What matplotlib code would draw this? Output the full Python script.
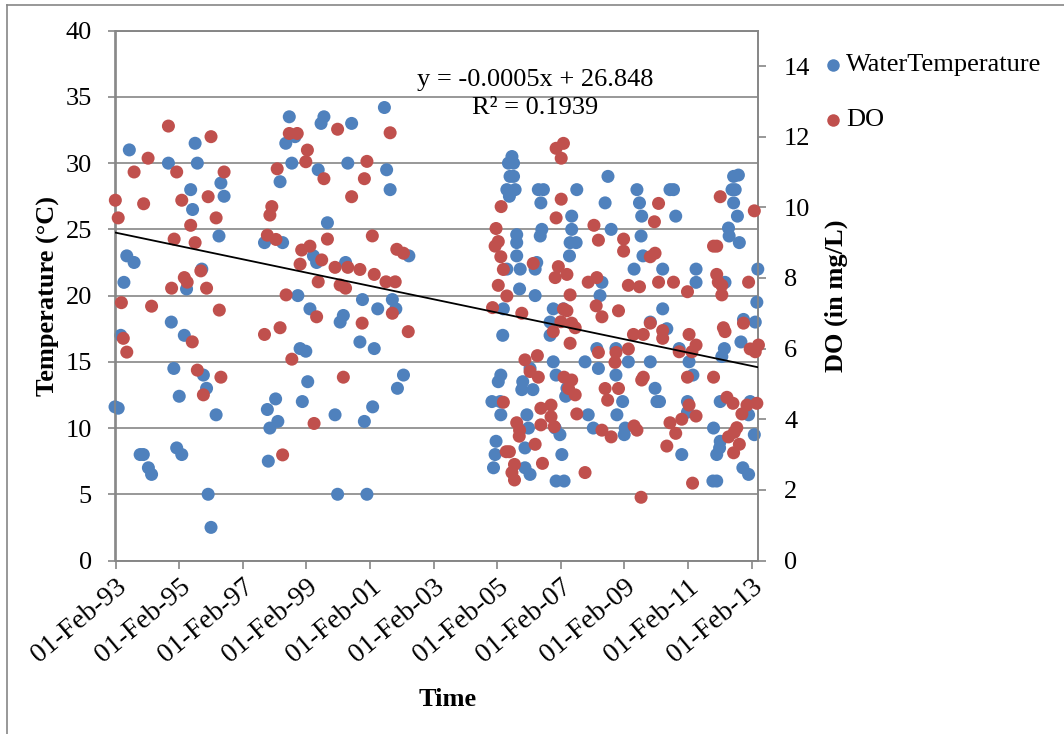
import matplotlib
matplotlib.use("Agg")
import matplotlib.pyplot as plt
import matplotlib.dates as mdates
from matplotlib.lines import Line2D
from datetime import datetime, timedelta
import numpy as np

# ---------------- data (decimal year, value) ----------------
wt_year = [1993.52,1995.59,1994.75,1995.66,1995.45,1996.40,1996.50,1995.51,1996.34,1997.77,1993.44,1993.67,1993.35,1995.80,1995.32,
 1994.84,1993.25,1995.25,1994.92,1995.85,1995.95,1995.09,1993.07,1993.17,1996.25,1997.86,1997.94,1993.86,1993.96,1995.01,1995.17,
 1994.12,1994.22,1996.00,1996.09,1997.89,2001.54,1998.55,1999.64,1999.55,2000.51,1998.44,1998.73,1998.63,1999.46,2000.39,2001.61,
 1998.26,2001.72,1999.75,1998.34,1999.31,1999.41,2000.32,2002.31,1998.82,2000.85,2001.79,1999.20,2000.25,2000.15,2001.33,2001.90,
 2000.77,2001.22,1998.89,1999.07,1999.13,2002.14,2001.95,1998.12,1998.96,1998.19,1999.99,2001.17,2000.91,2000.07,2000.99,
 2005.55,2005.44,2005.60,2005.60,2005.49,2005.39,2005.65,2005.47,2006.38,2006.54,2006.46,2007.59,2008.57,2008.48,2007.43,2007.43,
 2006.49,2006.44,2005.70,2005.70,2007.38,2007.57,2008.67,2005.70,2007.36,2005.39,2005.81,2006.33,2006.28,2008.38,2005.79,2006.28,
 2008.32,2005.28,2006.85,2007.17,2006.75,2006.75,2005.26,2008.22,2008.82,2006.85,2007.85,2008.27,2008.82,2005.20,2005.12,2006.12,
 2005.89,2005.86,2006.21,2006.94,2007.28,2007.24,2004.92,2005.18,2005.20,2006.02,2007.95,2008.85,2006.07,2008.11,2007.06,2006.91,
 2005.05,2005.02,2005.96,2007.12,2004.97,2005.96,2006.12,2006.94,2007.19,2009.48,2009.56,2009.63,2010.52,2010.63,2010.70,2012.52,
 2012.67,2012.47,2012.57,2012.52,2012.64,2012.36,2012.38,2012.70,2009.61,2009.67,2009.39,2010.29,2011.34,2011.34,2012.25,2013.28,
 2013.25,2010.29,2012.83,2013.20,2009.90,2010.42,2012.75,2009.21,2009.90,2010.81,2011.12,2012.23,2012.15,2011.24,2010.05,2009.03,
 2010.11,2010.19,2011.07,2011.07,2012.10,2013.04,2012.99,2009.11,2009.08,2011.89,2013.17,2012.10,2012.08,2011.99,2010.89,2012.81,
 2012.99,2011.87,2011.99]
wt_temp = [31.0,31.5,30.0,30.0,28.0,28.5,27.5,26.5,24.5,24.0,23.0,22.5,21.0,22.0,20.5,
 18.0,17.0,17.0,14.5,14.0,13.0,12.4,11.6,11.5,11.0,11.4,10.0,8.0,8.0,8.5,8.0,
 7.0,6.5,5.0,2.5,7.5,34.2,33.5,33.5,33.0,33.0,31.5,32.0,30.0,29.5,30.0,29.5,
 28.6,28.0,25.5,24.0,23.0,22.5,22.5,23.0,20.0,19.7,19.7,19.0,18.5,18.0,19.0,19.0,
 16.5,16.0,16.0,15.8,13.5,14.0,13.0,12.2,12.0,10.5,11.0,11.6,10.5,5.0,5.0,
 30.5,30.0,30.0,29.0,29.0,28.0,28.0,27.5,28.0,28.0,27.0,28.0,29.0,27.0,26.0,25.0,
 25.0,24.5,24.6,24.0,24.0,24.0,25.0,23.0,23.0,22.0,22.0,22.5,22.0,21.0,20.5,20.0,
 20.0,19.0,19.0,19.0,18.0,17.0,17.0,16.0,16.0,15.0,15.0,14.5,14.0,14.0,13.5,14.5,
 13.5,12.9,12.9,14.0,13.0,12.4,12.0,12.0,11.0,11.0,11.0,11.0,10.0,10.0,9.5,10.0,
 9.0,8.0,8.5,8.0,7.0,7.0,6.5,6.0,6.0,28.0,27.0,26.0,28.0,28.0,26.0,29.0,
 29.1,28.0,28.0,27.0,26.0,25.1,24.5,24.0,24.5,23.0,22.0,22.0,22.0,21.0,21.0,22.0,
 19.5,19.0,18.2,18.0,18.0,17.5,16.5,15.0,15.0,16.0,15.0,16.0,15.4,14.0,13.0,12.0,
 12.0,12.0,12.0,11.2,12.0,12.0,11.0,10.0,9.5,10.0,9.5,9.0,8.5,8.0,8.0,7.0,
 6.5,6.0,6.0]

do_year = [1994.75,1996.09,1994.11,1993.67,1995.01,1996.50,1993.08,1993.97,1995.17,1996.00,1993.17,1995.45,1996.25,1994.93,1995.59,
 1995.25,1995.34,1995.77,1994.85,1995.95,1993.27,1994.22,1996.35,1993.33,1993.44,1995.50,1997.77,1995.66,1996.40,1995.85,
 1998.55,1998.80,2000.07,2001.72,1999.12,1999.07,1998.17,1999.64,2000.99,2000.91,2000.51,1998.00,1997.94,1997.86,1998.13,
 1999.75,2001.16,1998.94,1999.20,1999.57,1998.89,1999.99,2000.39,2000.77,2001.22,2001.93,2002.14,1999.46,2000.15,2000.32,
 2001.59,2001.88,1998.45,1999.41,2000.84,2001.79,1998.26,2002.29,1998.63,2000.25,1999.33,1998.34,
 2006.94,2007.17,2007.10,2005.21,2007.10,2006.94,2005.05,2008.13,2008.27,2005.12,2005.02,2005.20,2005.28,2006.22,2007.01,
 2006.91,2007.28,2007.95,2008.22,2005.12,2005.39,2007.38,2004.94,2005.86,2007.17,2007.28,2008.20,2008.38,2008.90,2007.09,
 2007.43,2007.54,2006.85,2007.38,2008.27,2008.82,2008.79,2005.96,2006.35,2006.12,2006.38,2007.19,2007.43,2007.33,2007.54,
 2008.48,2008.56,2008.90,2005.28,2006.46,2006.78,2006.78,2007.59,2005.70,2005.79,2005.78,2006.46,2006.88,2008.38,2008.67,
 2006.28,2005.37,2005.47,2005.63,2005.55,2005.63,2006.51,2007.85,
 2010.16,2010.03,2012.10,2013.17,2009.06,2009.06,2009.90,2010.05,2011.89,2011.99,2009.21,2009.56,2010.16,2010.63,2011.07,
 2011.99,2012.04,2012.15,2012.15,2012.99,2009.90,2009.68,2009.37,2010.29,2010.29,2011.12,2012.20,2012.25,2012.83,2011.34,
 2011.21,2010.81,2009.21,2013.04,2013.20,2013.30,2009.68,2009.63,2011.07,2011.89,2011.12,2011.34,2010.89,2012.31,2012.50,
 2012.94,2012.78,2013.25,2010.52,2010.70,2009.39,2009.48,2012.62,2012.54,2012.36,2012.70,2012.52,2010.42,2011.23,2009.61]
do_mgl = [12.30,12.00,11.39,11.00,11.00,11.00,10.20,10.10,10.20,10.30,9.70,9.49,9.70,9.10,9.00,
 8.01,7.88,8.20,7.71,7.71,7.30,7.20,7.09,6.29,5.90,6.19,6.40,5.39,5.19,4.69,
 12.09,12.09,12.21,12.11,11.62,11.29,11.09,10.81,11.30,10.81,10.30,10.02,9.78,9.21,9.09,
 9.10,9.19,8.79,8.90,8.51,8.39,8.30,8.30,8.24,8.10,8.81,8.70,7.89,7.80,7.71,
 7.89,7.89,7.52,6.90,6.72,7.00,6.59,6.48,5.70,5.19,3.88,2.99,
 11.67,11.81,11.39,10.02,10.23,9.70,9.40,9.49,9.07,9.03,8.90,8.60,8.24,8.41,8.32,
 8.01,8.10,7.88,8.01,7.79,7.49,7.52,7.16,7.00,7.12,7.07,7.21,6.90,7.07,6.76,
 6.72,6.59,6.48,6.15,5.89,5.89,5.61,5.68,5.80,5.35,5.19,5.19,5.11,4.87,4.69,
 4.87,4.54,4.87,4.48,4.31,4.40,4.07,4.15,3.90,3.69,3.52,3.84,3.79,3.69,3.50,
 3.29,3.08,3.08,2.72,2.49,2.28,2.75,2.49,
 10.11,9.59,10.30,9.90,9.10,8.76,8.60,8.70,8.90,8.90,7.79,7.75,7.88,7.88,7.61,
 8.10,7.88,7.79,7.52,7.88,6.72,6.40,6.40,6.51,6.29,6.40,6.59,6.48,6.72,6.10,
 5.91,5.91,5.99,5.99,5.91,6.10,5.19,5.11,5.19,5.19,4.40,4.09,4.00,4.62,4.45,
 4.40,4.15,4.45,3.90,3.60,3.81,3.69,3.76,3.63,3.50,3.29,3.05,3.24,2.19,1.79]

# trendline (Excel serial-day based): y = slope*x + intercept
trend_slope = -0.0005166
trend_intercept = 26.848
trend_label = "y = -0.0005x + 26.848"
r2_label = "R\u00b2 = 0.1939"

series_names = ["WaterTemperature", "DO"]
tick_dates = ["1993-02-01","1995-02-01","1997-02-01","1999-02-01","2001-02-01","2003-02-01",
              "2005-02-01","2007-02-01","2009-02-01","2011-02-01","2013-02-01"]
x_min, x_max = "1993-02-01", "2013-04-12"

def dec_to_num(y):
    yi = int(y)
    start = datetime(yi, 1, 1)
    ndays = (datetime(yi + 1, 1, 1) - start).days
    return mdates.date2num(start + timedelta(days=(y - yi) * ndays))

wt_x = [dec_to_num(v) for v in wt_year]
do_x = [dec_to_num(v) for v in do_year]

BLUE = "#4F81BD"
RED = "#C0504D"
GRID = "#868686"

plt.rcParams['font.family'] = ['Liberation Serif', 'DejaVu Serif']

fig = plt.figure(figsize=(10.64, 7.34), dpi=100)
ax = fig.add_axes([115.5/1064, 1 - 560.5/734, (757.7-115.5)/1064, (560.5-30.7)/734])
ax2 = ax.twinx()

ax.scatter(wt_x, wt_temp, s=88, color=BLUE, edgecolors='none', zorder=3, clip_on=False)
ax2.scatter(do_x, do_mgl, s=88, color=RED, edgecolors='none', zorder=3, clip_on=False)

xmin = mdates.date2num(datetime.fromisoformat(x_min))
xmax = mdates.date2num(datetime.fromisoformat(x_max))
excel_off = 25569.0  # Excel serial of 1970-01-01
tx = np.array([xmin, xmax])
ty = trend_slope * (tx + excel_off) + trend_intercept
ax2.plot(tx, ty, color='black', lw=1.3, zorder=4)

ax.set_xlim(xmin, xmax)
ax.set_ylim(0, 40)
ax2.set_ylim(0, 15)
ax.set_yticks(np.arange(0, 41, 5))
ax2.set_yticks(np.arange(0, 15, 2))
ax.set_xticks([mdates.date2num(datetime.fromisoformat(d)) for d in tick_dates])
ax.xaxis.set_major_formatter(mdates.DateFormatter('%d-%b-%y'))

ax.yaxis.grid(True, color=GRID, lw=1.2)
ax.set_axisbelow(True)
for a in (ax, ax2):
    for sp in a.spines.values():
        sp.set_color(GRID)
        sp.set_linewidth(1.2)
    a.tick_params(colors=GRID, labelcolor='black', length=6, width=1.2, labelsize=19)
ax.tick_params(axis='y', pad=11)
ax2.tick_params(axis='y', pad=13)

for lbl in ax.get_xticklabels():
    lbl.set_rotation(40)
    lbl.set_fontsize(20)
    lbl.set_ha('right')
    lbl.set_rotation_mode('anchor')
ax.tick_params(axis='x', pad=4)

ax.set_ylabel("Temperature (\u00b0C)", fontsize=19, fontweight='bold', labelpad=4)
ax2.set_ylabel("DO (in mg/L)", fontsize=19, fontweight='bold', labelpad=10)
fig.text(448/1064, 1 - 700/734, "Time", fontsize=19, fontweight='bold', ha='center', va='center')

fig.text(535/1064, 1 - 80/734, trend_label, fontsize=19, ha='center', va='center')
fig.text(535/1064, 1 - 108/734, r2_label, fontsize=19, ha='center', va='center')

# legend (outside plot, top right)
for name, col, ypx in [(series_names[0], BLUE, 65), (series_names[1], RED, 120)]:
    fig.add_artist(Line2D([833/1064], [1 - ypx/734], marker='o', markersize=9, color=col,
                          markeredgewidth=0, linestyle='none', transform=fig.transFigure))
    fig.text(846/1064, 1 - ypx/734, name, fontsize=19, ha='left', va='center')

# chart-area border (visible left and top edges)
fig.add_artist(Line2D([7/1064, 7/1064], [0, 1 - 5/734], color=GRID, lw=1.2, transform=fig.transFigure))
fig.add_artist(Line2D([7/1064, 1], [1 - 5/734, 1 - 5/734], color=GRID, lw=1.2, transform=fig.transFigure))

fig.savefig("out.png", dpi=100)
